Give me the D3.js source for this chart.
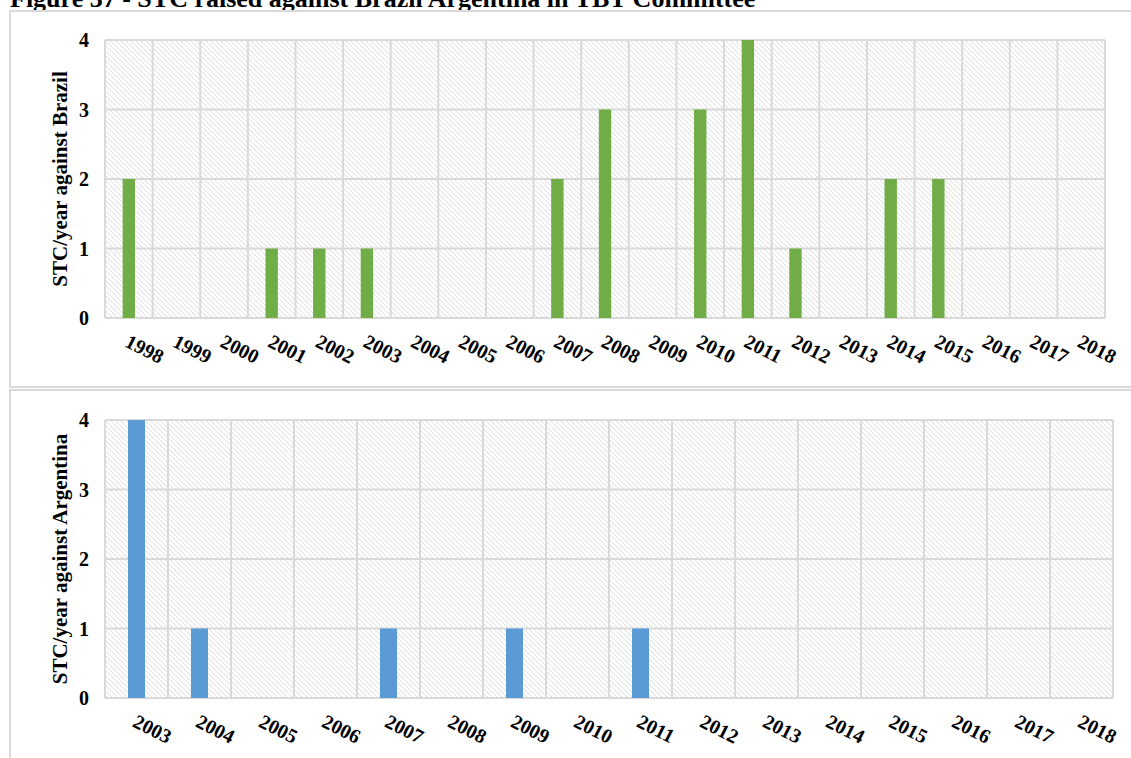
<!DOCTYPE html>
<html>
<head>
<meta charset="utf-8">
<script src="https://cdn.jsdelivr.net/npm/d3@7"></script>
<style>
  html, body { margin: 0; padding: 0; background: #ffffff; overflow: hidden; }
  svg { display: block; }
  text { font-family: "Liberation Serif", "Times New Roman", Times, serif; font-weight: bold; fill: #000; }
</style>
</head>
<body>
<svg id="chart" width="1131" height="758"></svg>
<script>
// Specific trade concerns raised per year
const brazilYears = ["1998","1999","2000","2001","2002","2003","2004","2005","2006","2007","2008","2009","2010","2011","2012","2013","2014","2015","2016","2017","2018"];
const brazilValues = [2,0,0,1,1,1,0,0,0,2,3,0,3,4,1,0,2,2,0,0,0];

const argentinaYears = ["2003","2004","2005","2006","2007","2008","2009","2010","2011","2012","2013","2014","2015","2016","2017","2018"];
const argentinaValues = [4,1,0,0,1,0,1,0,1,0,0,0,0,0,0,0];

const yTicks = [0,1,2,3,4];

const title = "Figure 37 - STC raised against Brazil Argentina in TBT Committee";

const svg = d3.select("#chart");
const gridColor = "#d9d9d9";

// Light downward-diagonal hatch used as plot background
const defs = svg.append("defs");
const pat = defs.append("pattern")
  .attr("id", "hatch")
  .attr("patternUnits", "userSpaceOnUse")
  .attr("width", 5).attr("height", 5);
pat.append("rect").attr("width", 5).attr("height", 5).attr("fill", "#ffffff");
pat.append("path")
  .attr("d", "M-1,-1 L6,6 M-1,4 L1,6 M4,-1 L6,1")
  .attr("stroke", "#dedede")
  .attr("stroke-width", 1)
  .attr("fill", "none");

// Title
svg.append("text")
  .attr("x", 10).attr("y", 7)
  .attr("font-size", 26)
  .text(title);

// Panel frames
svg.append("rect").attr("x", 10).attr("y", 11).attr("width", 1130).attr("height", 376)
  .attr("fill", "none").attr("stroke", gridColor).attr("stroke-width", 2);
svg.append("rect").attr("x", 10).attr("y", 390).attr("width", 1130).attr("height", 380)
  .attr("fill", "none").attr("stroke", gridColor).attr("stroke-width", 2);

function drawPanel(cfg) {
  const { years, values, color, left, right, top, bottom, yTitle, barFrac } = cfg;
  const x = d3.scaleBand().domain(years).range([left, right]).paddingInner(0).paddingOuter(0);
  const y = d3.scaleLinear().domain([0, 4]).range([bottom, top]);
  const g = svg.append("g");

  g.append("rect")
    .attr("x", left).attr("y", top)
    .attr("width", right - left).attr("height", bottom - top)
    .attr("fill", "url(#hatch)");

  // horizontal gridlines
  g.selectAll(".hgrid").data(yTicks).join("line")
    .attr("x1", left).attr("x2", right)
    .attr("y1", d => y(d)).attr("y2", d => y(d))
    .attr("stroke", gridColor).attr("stroke-width", 2);

  // vertical gridlines at category boundaries
  const edges = years.map(d => x(d)).concat([right]);
  g.selectAll(".vgrid").data(edges).join("line")
    .attr("x1", d => d).attr("x2", d => d)
    .attr("y1", top).attr("y2", bottom)
    .attr("stroke", gridColor).attr("stroke-width", 2);

  // bars
  const bw = x.bandwidth() * barFrac;
  g.selectAll(".bar").data(years.map((yr, i) => ({ yr, v: values[i] })).filter(d => d.v > 0)).join("rect")
    .attr("x", d => x(d.yr) + x.bandwidth() / 2 - bw / 2)
    .attr("width", bw)
    .attr("y", d => y(d.v))
    .attr("height", d => y(0) - y(d.v))
    .attr("fill", color);

  // y tick labels
  g.selectAll(".ytick").data(yTicks).join("text")
    .attr("x", left - 16)
    .attr("y", d => y(d))
    .attr("dy", "0.35em")
    .attr("text-anchor", "end")
    .attr("font-size", 20)
    .text(d => d);

  // x tick labels, rotated
  g.selectAll(".xtick").data(years).join("text")
    .attr("transform", d => `translate(${x(d) + x.bandwidth() / 2 - 5},${bottom + 28}) rotate(27)`)
    .attr("text-anchor", "start")
    .attr("font-size", 20)
    .text(d => d);

  // y axis title
  g.append("text")
    .attr("transform", `translate(67,${(top + bottom) / 2}) rotate(-90)`)
    .attr("text-anchor", "middle")
    .attr("font-size", 21)
    .text(yTitle);
}

drawPanel({
  years: brazilYears, values: brazilValues, color: "#70ad47",
  left: 105, right: 1105, top: 40, bottom: 318,
  yTitle: "STC/year against Brazil", barFrac: 0.26
});

drawPanel({
  years: argentinaYears, values: argentinaValues, color: "#5b9bd5",
  left: 105, right: 1113, top: 420, bottom: 698,
  yTitle: "STC/year against Argentina", barFrac: 0.27
});
</script>
</body>
</html>
